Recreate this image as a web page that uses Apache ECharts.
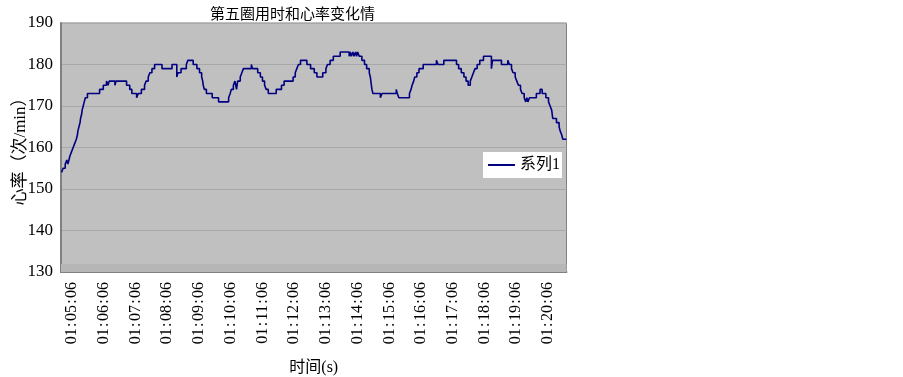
<!DOCTYPE html>
<html><head><meta charset="utf-8">
<script src="https://cdn.jsdelivr.net/npm/echarts@6/dist/echarts.min.js"></script>
<style>html,body{margin:0;padding:0;background:#fff}#c{width:903px;height:377px}</style>
</head><body><div id="c"></div>
<script>
const times = [
'01:04:46','01:04:49','01:04:53','01:04:56','01:04:58','01:05:00','01:05:02','01:05:05','01:05:08','01:05:11',
'01:05:14','01:05:16','01:05:17','01:05:19','01:05:21','01:05:22','01:05:24','01:05:25','01:05:27','01:05:29',
'01:05:31','01:05:35','01:05:58','01:06:05','01:06:11','01:06:14','01:06:16','01:06:27','01:06:29','01:06:49',
'01:06:55','01:06:59','01:07:08','01:07:11','01:07:17','01:07:23','01:07:26','01:07:30','01:07:33','01:07:37',
'01:07:42','01:07:56','01:08:15','01:08:24','01:08:26','01:08:32','01:08:42','01:08:45','01:08:55','01:09:02',
'01:09:07','01:09:11','01:09:13','01:09:14','01:09:16','01:09:20','01:09:31','01:09:43','01:10:02','01:10:05',
'01:10:07','01:10:11','01:10:14','01:10:17','01:10:19','01:10:24','01:10:27','01:10:30','01:10:45','01:10:47',
'01:10:57','01:11:02','01:11:06','01:11:10','01:11:13','01:11:17','01:11:32','01:11:42','01:11:47','01:12:04',
'01:12:08','01:12:11','01:12:14','01:12:18','01:12:30','01:12:37','01:12:44','01:12:49','01:13:00','01:13:06',
'01:13:09','01:13:14','01:13:20','01:13:33','01:13:50','01:13:52','01:13:54','01:13:57','01:13:59','01:14:02',
'01:14:04','01:14:06','01:14:09','01:14:14','01:14:19','01:14:23','01:14:28','01:14:30','01:14:32','01:14:33',
'01:14:35','01:14:49','01:14:52','01:15:19','01:15:21','01:15:24','01:15:44','01:15:47','01:15:49','01:15:52',
'01:15:54','01:15:58','01:16:02','01:16:10','01:16:35','01:16:38','01:16:49','01:17:13','01:17:17','01:17:22',
'01:17:27','01:17:31','01:17:35','01:17:39','01:17:42','01:17:45','01:17:48','01:17:52','01:17:57','01:18:04',
'01:18:19','01:18:21','01:18:38','01:18:50','01:18:53','01:18:57','01:19:00','01:19:04','01:19:07','01:19:10',
'01:19:14','01:19:17','01:19:21','01:19:24','01:19:26','01:19:28','01:19:31','01:19:44','01:19:51','01:19:55',
'01:20:02','01:20:07','01:20:10','01:20:13','01:20:14','01:20:15','01:20:22','01:20:27','01:20:29','01:20:32',
'01:20:34','01:20:41'
];
const heartRates = [
154,155,156,157,156,157,158,159,160,161,
162,163,164,165,166,167,168,169,170,171,
172,173,174,175,176,175,176,175,176,175,
174,173,172,173,174,175,176,177,178,179,
180,179,180,177,178,179,180,181,180,179,
178,177,176,175,174,173,172,171,172,173,
174,175,176,174,176,177,178,179,180,179,
178,177,176,175,174,173,174,175,176,177,
178,179,180,181,180,179,178,177,178,179,
180,181,182,183,182,183,182,183,182,183,
182,183,182,181,180,179,178,177,175,174,
173,172,173,174,173,172,173,174,175,176,
177,178,179,180,181,180,181,180,179,178,
177,176,175,176,177,178,179,180,181,182,
179,181,180,181,180,179,178,177,176,175,
174,173,172,171,172,171,172,173,174,173,
172,171,170,169,168,167,166,165,164,163,
162,162
];
const xTickLabels = ['01:05:06','01:06:06','01:07:06','01:08:06','01:09:06','01:10:06','01:11:06','01:12:06',
'01:13:06','01:14:06','01:15:06','01:16:06','01:17:06','01:18:06','01:19:06','01:20:06'];
const yTickValues = [130,140,150,160,170,180,190];
const xStart = '01:04:45';
const xEnd = '01:20:41';
const seriesName = '系列1';

function toSec(s){const p=s.split(':').map(Number);return p[0]*3600+p[1]*60+p[2];}
const labelBySec = {};
xTickLabels.forEach(l=>{labelBySec[toSec(l)] = l;});
const hair = '\u200A';

const chart = echarts.init(document.getElementById('c'), null, {renderer:'canvas'});
const serif = "'Liberation Serif','Noto Sans CJK SC',serif";
chart.setOption({
  animation:false,
  backgroundColor:'#ffffff',
  title:{text:'第五圈用时和心率变化情',left:205,top:1,
    textStyle:{fontSize:15,fontWeight:'normal',color:'#000',fontFamily:"'Noto Sans CJK SC'"}},
  legend:{data:[{name:seriesName,icon:'rect'}],left:483,top:152,orient:'vertical',
    backgroundColor:'#ffffff',padding:[5,2,5,5],itemWidth:27,itemHeight:2,itemGap:4,
    textStyle:{fontSize:16,color:'#000',fontFamily:serif,lineHeight:16}},
  grid:{left:61,top:23,width:505.5,height:249,show:true,backgroundColor:'#c0c0c0',
    borderColor:'#808080',borderWidth:1,containLabel:false,outerBoundsMode:'none'},
  xAxis:{type:'value',min:toSec(xStart),max:toSec(xEnd),
    name:'时间(s)',nameLocation:'middle',nameGap:88,nameMoveOverlap:false,
    nameTextStyle:{fontSize:16,color:'#000',fontFamily:serif},
    axisLine:{show:true,lineStyle:{color:'#808080',width:2}},
    axisTick:{show:false},
    splitLine:{show:false},
    axisLabel:{customValues:xTickLabels.map(toSec),rotate:90,margin:10,fontSize:16,color:'#000',
      fontFamily:serif,formatter:v=>(labelBySec[v]||'').split(':').join(hair+':'+hair)}},
  yAxis:{type:'value',min:yTickValues[0],max:yTickValues[yTickValues.length-1],interval:10,
    name:'心率（次/min）',nameLocation:'middle',nameGap:32,nameRotate:90,nameMoveOverlap:false,
    nameTextStyle:{fontSize:17,color:'#000',fontFamily:serif},
    axisLine:{show:true,lineStyle:{color:'#808080',width:2}},
    axisTick:{show:false},
    splitLine:{show:true,lineStyle:{color:'#a8a8a8',width:1}},
    axisLabel:{margin:8,fontSize:17,color:'#000',fontFamily:serif}},
  series:[{name:seriesName,type:'line',step:'end',showSymbol:false,symbol:'none',
    data:times.map((t,i)=>[toSec(t),heartRates[i]]),
    lineStyle:{color:'#000080',width:1.6},itemStyle:{color:'#000080'},
    markArea:{silent:true,itemStyle:{color:'#b6b6b6'},data:[[{yAxis:130},{yAxis:132}]]}}]
});
</script></body></html>
